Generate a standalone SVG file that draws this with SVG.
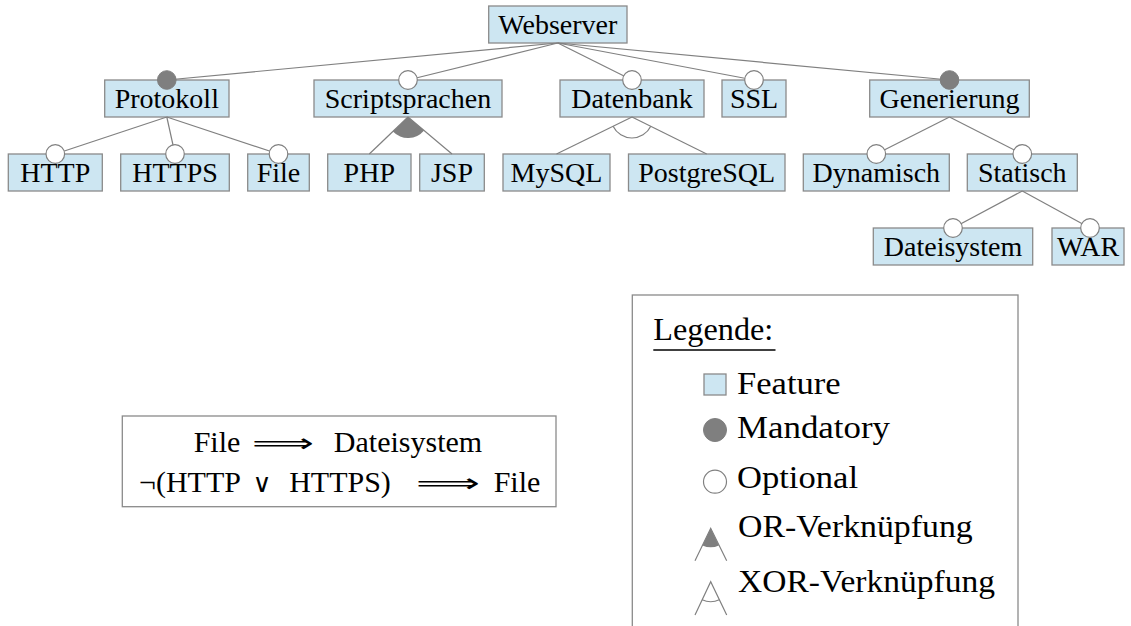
<svg xmlns="http://www.w3.org/2000/svg" width="1131" height="626" viewBox="0 0 1131 626">
<style>
.box{fill:#cde6f2;stroke:#8a8a8a;stroke-width:1.3}
.lbl{font-family:'Liberation Serif','Times New Roman',serif;font-size:28px;fill:#000;text-anchor:middle}
.lg{font-family:'Liberation Serif','Times New Roman',serif;font-size:31px;fill:#000}
.ct{font-family:'Liberation Serif','Times New Roman',serif;font-size:30px;fill:#000;text-anchor:middle}
.sym{font-family:'DejaVu Sans',sans-serif;font-size:26px;fill:#000}
.ln{stroke:#808080;stroke-width:1.2;fill:none}
.man{fill:#7f7f7f;stroke:#7f7f7f;stroke-width:1}
.opt{fill:#fff;stroke:#808080;stroke-width:1.2}
.orf{fill:#7f7f7f;stroke:none}
.frame{fill:#fff;stroke:#8a8a8a;stroke-width:1.3}
</style>
<rect width="1131" height="626" fill="#fff"/>
<g id="nodes">
<g id="n-webserver"><rect class="box" x="488.7" y="6" width="138.3" height="37"/><text class="lbl" x="557.8" y="34.3">Webserver</text></g>
<g id="n-protokoll"><rect class="box" x="104.7" y="80" width="124.3" height="37"/><text class="lbl" x="166.8" y="108.3">Protokoll</text></g>
<g id="n-scriptsprachen"><rect class="box" x="314" y="80" width="188" height="37"/><text class="lbl" x="408" y="108.3">Scriptsprachen</text></g>
<g id="n-datenbank"><rect class="box" x="560" y="80" width="144" height="37"/><text class="lbl" x="632" y="108.3">Datenbank</text></g>
<g id="n-ssl"><rect class="box" x="722" y="80" width="64" height="37"/><text class="lbl" x="754" y="108.3">SSL</text></g>
<g id="n-generierung"><rect class="box" x="869.7" y="80" width="159.6" height="37"/><text class="lbl" x="949.5" y="108.3">Generierung</text></g>
<g id="n-http"><rect class="box" x="8.3" y="154" width="94" height="37"/><text class="lbl" x="55.3" y="182.3">HTTP</text></g>
<g id="n-https"><rect class="box" x="120.7" y="154" width="108.6" height="37"/><text class="lbl" x="175" y="182.3">HTTPS</text></g>
<g id="n-file"><rect class="box" x="247.7" y="154" width="61.6" height="37"/><text class="lbl" x="278.5" y="182.3">File</text></g>
<g id="n-php"><rect class="box" x="327.7" y="154" width="83.3" height="37"/><text class="lbl" x="369.3" y="182.3">PHP</text></g>
<g id="n-jsp"><rect class="box" x="419.7" y="154" width="64.6" height="37"/><text class="lbl" x="452" y="182.3">JSP</text></g>
<g id="n-mysql"><rect class="box" x="503" y="154" width="107" height="37"/><text class="lbl" x="556.5" y="182.3">MySQL</text></g>
<g id="n-postgresql"><rect class="box" x="628.5" y="154" width="156.5" height="37"/><text class="lbl" x="706.7" y="182.3">PostgreSQL</text></g>
<g id="n-dynamisch"><rect class="box" x="803.3" y="154" width="146" height="37"/><text class="lbl" x="876.3" y="182.3">Dynamisch</text></g>
<g id="n-statisch"><rect class="box" x="967.3" y="154" width="110" height="37"/><text class="lbl" x="1022.3" y="182.3">Statisch</text></g>
<g id="n-dateisystem"><rect class="box" x="873.3" y="228" width="159.4" height="37"/><text class="lbl" x="953" y="256.3">Dateisystem</text></g>
<g id="n-war"><rect class="box" x="1052" y="228" width="72" height="37"/><text class="lbl" x="1088" y="256.3">WAR</text></g>
</g>
<g id="connectors">
<line class="ln" x1="557.8" y1="43" x2="166.8" y2="80"/>
<line class="ln" x1="557.8" y1="43" x2="408" y2="80"/>
<line class="ln" x1="557.8" y1="43" x2="632" y2="80"/>
<line class="ln" x1="557.8" y1="43" x2="754" y2="80"/>
<line class="ln" x1="557.8" y1="43" x2="949.5" y2="80"/>
<line class="ln" x1="166.8" y1="117" x2="55.3" y2="154"/>
<line class="ln" x1="166.8" y1="117" x2="175" y2="154"/>
<line class="ln" x1="166.8" y1="117" x2="278.5" y2="154"/>
<line class="ln" x1="408" y1="117" x2="369.3" y2="154"/>
<line class="ln" x1="408" y1="117" x2="452" y2="154"/>
<line class="ln" x1="632" y1="117" x2="556.5" y2="154"/>
<line class="ln" x1="632" y1="117" x2="706.7" y2="154"/>
<line class="ln" x1="949.5" y1="117" x2="876.3" y2="154"/>
<line class="ln" x1="949.5" y1="117" x2="1022.3" y2="154"/>
<line class="ln" x1="1022.3" y1="191" x2="953" y2="228"/>
<line class="ln" x1="1022.3" y1="191" x2="1090" y2="228"/>
<path class="orf" d="M408 117 L392.9 131.6 A21 21 0 0 0 424.1 130.5 Z"/>
<path class="ln" d="M613.1 126.2 A21 21 0 0 0 650.8 126.3"/>
<circle class="man" cx="166.8" cy="80" r="9.3"/>
<circle class="opt" cx="408" cy="80" r="9.3"/>
<circle class="opt" cx="632" cy="80" r="9.3"/>
<circle class="opt" cx="754" cy="80" r="9.3"/>
<circle class="man" cx="949.5" cy="80" r="9.3"/>
<circle class="opt" cx="55.3" cy="154" r="9.3"/>
<circle class="opt" cx="175" cy="154" r="9.3"/>
<circle class="opt" cx="278.5" cy="154" r="9.3"/>
<circle class="opt" cx="876.3" cy="154" r="9.3"/>
<circle class="opt" cx="1022.3" cy="154" r="9.3"/>
<circle class="opt" cx="953" cy="228" r="9.3"/>
<circle class="opt" cx="1090" cy="228" r="9.3"/>
</g>
<g id="constraints">
<rect class="frame" x="122.3" y="416" width="433.7" height="90.7"/>
<text class="ct" x="217" y="451.7">File</text>
<text class="sym" x="252" y="451.7" textLength="62" lengthAdjust="spacingAndGlyphs">⟹</text>
<text class="ct" x="408" y="451.7">Dateisystem</text>
<text class="ct" x="190" y="491.7">¬(HTTP</text>
<text class="sym" x="262" y="491.7" text-anchor="middle">∨</text>
<text class="ct" x="340" y="491.7">HTTPS)</text>
<text class="sym" x="416" y="491.7" textLength="64" lengthAdjust="spacingAndGlyphs">⟹</text>
<text class="ct" x="517" y="491.7">File</text>
</g>
<g id="legend">
<rect class="frame" x="632.3" y="295" width="385.7" height="340"/>
<text class="lg" x="653.3" y="340" textLength="120" lengthAdjust="spacingAndGlyphs">Legende:</text>
<line x1="653.3" y1="350" x2="775.5" y2="350" stroke="#000" stroke-width="1.5"/>
<rect class="box" x="704" y="374" width="22" height="21"/>
<text class="lg" x="737" y="394" textLength="103.7" lengthAdjust="spacingAndGlyphs">Feature</text>
<circle class="man" cx="715" cy="430" r="11.5"/>
<text class="lg" x="737" y="438.3" textLength="153" lengthAdjust="spacingAndGlyphs">Mandatory</text>
<circle class="opt" cx="715" cy="481.7" r="11.5"/>
<text class="lg" x="737" y="488" textLength="121" lengthAdjust="spacingAndGlyphs">Optional</text>
<path class="ln" d="M695 560.7 L710.7 528.3 L726.7 560.7"/>
<path class="orf" d="M710.7 528.3 L702.5 545.4 A19 19 0 0 0 718.9 545.4 Z"/>
<text class="lg" x="738" y="536.7" textLength="234.7" lengthAdjust="spacingAndGlyphs">OR-Verknüpfung</text>
<path class="ln" d="M695 615 L710.7 581.7 L726.7 615"/>
<path class="ln" d="M702.1 599.7 A20 20 0 0 0 719.3 599.7"/>
<text class="lg" x="738" y="591.7" textLength="257" lengthAdjust="spacingAndGlyphs">XOR-Verknüpfung</text>
</g>
</svg>
